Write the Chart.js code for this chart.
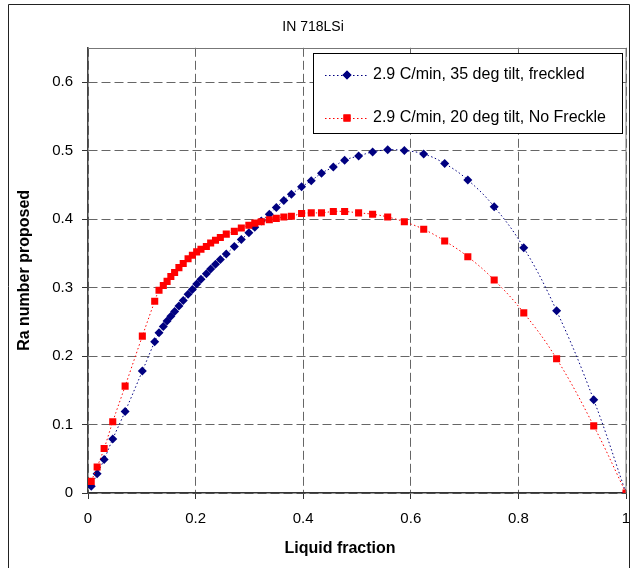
<!DOCTYPE html>
<html>
<head>
<meta charset="utf-8">
<title>IN 718LSi</title>
<script src="https://cdn.jsdelivr.net/npm/chart.js@4.4.1/dist/chart.umd.min.js"></script>
<style>
  html, body { margin: 0; padding: 0; background: #fff; }
  #caja { width: 632px; height: 568px; }
</style>
</head>
<body>
<div id="caja"><canvas id="GraficoRa" width="632" height="568"></canvas></div>
<script>
// fraccion liquida (comun a las dos series)
var liquidFraction = [0.006, 0.017, 0.030, 0.046, 0.069, 0.101, 0.124, 0.132, 0.140, 0.147,
  0.154, 0.161, 0.169, 0.177, 0.186, 0.194, 0.202, 0.210, 0.220, 0.228,
  0.237, 0.246, 0.257, 0.272, 0.285, 0.299, 0.310, 0.322, 0.337, 0.350,
  0.364, 0.378, 0.397, 0.415, 0.434, 0.456, 0.477, 0.503, 0.529, 0.557,
  0.588, 0.624, 0.663, 0.706, 0.755, 0.810, 0.871, 0.940, 1.000];
// 2.9 C/min, 35 deg tilt, freckled
var raFreckled = [0.010, 0.028, 0.049, 0.079, 0.119, 0.178, 0.221, 0.234, 0.243, 0.251,
  0.258, 0.265, 0.273, 0.281, 0.290, 0.297, 0.305, 0.312, 0.320, 0.327,
  0.334, 0.341, 0.349, 0.360, 0.370, 0.380, 0.388, 0.397, 0.407, 0.417,
  0.427, 0.436, 0.447, 0.456, 0.467, 0.476, 0.486, 0.492, 0.498, 0.501,
  0.500, 0.495, 0.481, 0.457, 0.418, 0.358, 0.266, 0.136, 0.000];
// 2.9 C/min, 20 deg tilt, No Freckle
var raNoFreckle = [0.017, 0.038, 0.065, 0.104, 0.156, 0.229, 0.280, 0.296, 0.303, 0.309,
  0.316, 0.322, 0.329, 0.335, 0.342, 0.347, 0.352, 0.356, 0.360, 0.365,
  0.369, 0.373, 0.378, 0.382, 0.387, 0.391, 0.394, 0.396, 0.399, 0.401,
  0.403, 0.404, 0.408, 0.409, 0.409, 0.411, 0.411, 0.409, 0.407, 0.403,
  0.396, 0.385, 0.368, 0.345, 0.311, 0.263, 0.196, 0.098, 0.000];
var seriesLabels = ['2.9 C/min, 35 deg tilt, freckled', '2.9 C/min, 20 deg tilt, No Freckle'];
var xTicks = [0, 0.2, 0.4, 0.6, 0.8, 1];
var yTicks = [0, 0.1, 0.2, 0.3, 0.4, 0.5, 0.6];

Chart.defaults.font.family = '"Liberation Sans", Arial, sans-serif';
Chart.defaults.color = '#000';

function armarPuntos(xs, ys) {
  var pts = [];
  for (var i = 0; i < xs.length; i++) {
    pts.push({x: xs[i], y: ys[i]});
  }
  return pts;
}

// marco exterior, borde del area, titulo X y leyenda propia
var marcoPlugin = {
  id: 'marco',
  afterDraw: function(chart) {
    var ctx = chart.ctx;
    var a = chart.chartArea;
    ctx.save();
    // marco exterior
    ctx.strokeStyle = '#222';
    ctx.lineWidth = 1;
    ctx.beginPath();
    ctx.moveTo(8.5, 570);
    ctx.lineTo(8.5, 4.5);
    ctx.lineTo(629.5, 4.5);
    ctx.lineTo(629.5, 570);
    ctx.stroke();
    // borde superior y derecho del area
    ctx.strokeStyle = '#777';
    ctx.beginPath();
    ctx.moveTo(a.left, Math.round(a.top) + 0.5);
    ctx.lineTo(a.right, Math.round(a.top) + 0.5);
    ctx.lineTo(a.right, a.bottom);
    ctx.stroke();

    // titulo del eje X (en el original va algo a la izquierda del centro)
    ctx.fillStyle = '#000';
    ctx.font = 'bold 16px "Liberation Sans", Arial, sans-serif';
    ctx.textAlign = 'center';
    ctx.textBaseline = 'middle';
    ctx.fillText('Liquid fraction', 340, 549);

    // leyenda
    var bx = 313.5, by = 53.5, bw = 309, bh = 80;
    ctx.fillStyle = '#fff';
    ctx.fillRect(bx, by, bw, bh);
    ctx.strokeStyle = '#000';
    ctx.strokeRect(bx, by, bw, bh);
    var filas = [75, 118];
    chart.data.datasets.forEach(function(ds, i) {
      var yy = filas[i];
      ctx.strokeStyle = ds.borderColor;
      ctx.lineWidth = 1;
      ctx.setLineDash(ds.borderDash);
      ctx.beginPath();
      ctx.moveTo(325, yy + 0.5);
      ctx.lineTo(368, yy + 0.5);
      ctx.stroke();
      ctx.setLineDash([]);
      ctx.fillStyle = ds.pointBackgroundColor;
      Chart.helpers.drawPoint(ctx, {pointStyle: ds.pointStyle, radius: ds.pointRadius, rotation: 0, borderWidth: 0}, 347, yy);
      ctx.fill();
      ctx.fillStyle = '#000';
      ctx.font = '16px "Liberation Sans", Arial, sans-serif';
      ctx.textBaseline = 'middle';
      ctx.textAlign = 'left';
      ctx.fillText(ds.label, 373, yy);
    });
    ctx.restore();
  }
};

var myChartRa = new Chart('GraficoRa', {
  type: 'line',
  data: {
    datasets: [{
      label: seriesLabels[0],
      data: armarPuntos(liquidFraction, raFreckled),
      borderColor: '#000080',
      backgroundColor: '#000080',
      pointBackgroundColor: '#000080',
      pointBorderColor: '#000080',
      pointBorderWidth: 0,
      pointStyle: 'rectRot',
      pointRadius: 4.5,
      borderWidth: 1,
      borderDash: [1.5, 2.5],
      tension: 0.4,
      fill: false,
      order: 1
    }, {
      label: seriesLabels[1],
      data: armarPuntos(liquidFraction, raNoFreckle),
      borderColor: '#ff0000',
      backgroundColor: '#ff0000',
      pointBackgroundColor: '#ff0000',
      pointBorderColor: '#ff0000',
      pointBorderWidth: 0,
      pointStyle: 'rect',
      pointRadius: 5,
      borderWidth: 1,
      borderDash: [1.5, 2.5],
      tension: 0.4,
      fill: false,
      order: 0
    }]
  },
  plugins: [marcoPlugin],
  options: {
    responsive: false,
    animation: false,
    layout: { padding: { left: 0, right: 6, top: 0, bottom: 0 } },
    plugins: {
      legend: { display: false },
      tooltip: { enabled: false },
      title: {
        display: true,
        text: 'IN 718LSi',
        font: { size: 14, weight: 'normal' },
        color: '#000',
        padding: { top: 19, bottom: 12 }
      }
    },
    scales: {
      x: {
        type: 'linear',
        min: 0,
        max: 1,
        afterBuildTicks: function(scale) {
          scale.ticks = xTicks.map(function(v) { return {value: v}; });
        },
        afterFit: function(scale) {
          scale.height = 75;
          scale.paddingLeft = 0;
          scale.paddingRight = 0;
        },
        ticks: {
          padding: 11,
          font: { size: 15 },
          callback: function(v) { return String(Math.round(v * 10) / 10); }
        },
        grid: {
          color: '#666',
          lineWidth: 1,
          tickColor: '#333',
          tickLength: 6,
          tickBorderDash: []
        },
        border: { color: '#333', width: 1.5, dash: [9, 4] },
        title: { display: false }
      },
      y: {
        type: 'linear',
        min: 0,
        max: 0.65,
        afterBuildTicks: function(scale) {
          scale.ticks = yTicks.map(function(v) { return {value: v}; });
        },
        afterFit: function(scale) {
          scale.width = 88;
          scale.paddingTop = 0;
          scale.paddingBottom = 0;
        },
        ticks: {
          padding: 9,
          font: { size: 15 },
          callback: function(v) { return String(Math.round(v * 10) / 10); }
        },
        grid: {
          color: '#666',
          lineWidth: 1,
          tickColor: '#333',
          tickLength: 6,
          tickBorderDash: []
        },
        border: { color: '#444', width: 1.5, dash: [9, 4] },
        title: {
          display: true,
          text: 'Ra number proposed',
          font: { size: 16, weight: 'bold' },
          color: '#000',
          padding: { top: 15, bottom: 0 }
        }
      }
    }
  }
});
</script>
</body>
</html>
